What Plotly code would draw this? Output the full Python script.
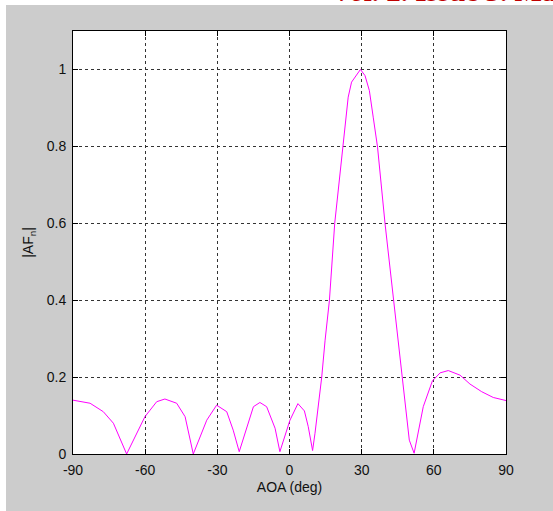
import plotly.graph_objects as go

# Angle of arrival (deg) and normalized array-factor magnitude
aoa_deg = [-90, -82.9, -77.4, -73.2, -67.7, -60.1, -55.2, -51.8, -46.9, -43.4,
           -40.0, -34.4, -30.3, -26.1, -23.4, -20.9, -15.0, -12.3, -9.5, -6.0,
           -4.0, 0.2, 3.5, 6.2, 7.8, 9.6, 10.6, 12.0, 13.4, 14.8,
           16.6, 18.8, 22.0, 23.1, 24.4, 25.8, 29.5, 31.4, 33.2, 34.8,
           36.6, 39.7, 43.2, 47.0, 49.8, 51.8, 55.6, 59.4, 62.6, 66.0,
           70.9, 75.0, 79.9, 84.7, 88.9, 90]
af_mag = [0.140, 0.132, 0.110, 0.080, 0.000, 0.097, 0.136, 0.143, 0.132, 0.097,
          0.000, 0.088, 0.127, 0.110, 0.062, 0.006, 0.123, 0.134, 0.123, 0.067,
          0.006, 0.088, 0.131, 0.112, 0.071, 0.009, 0.054, 0.123, 0.200, 0.296,
          0.400, 0.600, 0.798, 0.860, 0.928, 0.967, 1.000, 0.984, 0.945, 0.876,
          0.798, 0.600, 0.400, 0.200, 0.036, 0.002, 0.123, 0.190, 0.211, 0.217,
          0.205, 0.182, 0.162, 0.147, 0.140, 0.139]

x_ticks = [-90, -60, -30, 0, 30, 60, 90]
x_tick_labels = ["-90", "-60", "-30", "0", "30", "60", "90"]
y_ticks = [0, 0.2, 0.4, 0.6, 0.8, 1.0]
y_tick_labels = ["0", "0.2", "0.4", "0.6", "0.8", "1"]

header_text = "Vol. 2. Issue 3. Ma"

W, H = 553, 511
L, R, T, B = 73, 47, 31, 57
PW, PH = W - L - R, H - T - B


def px_x(px):
    return (px - L) / PW


def px_y(py):
    return (H - B - py) / PH


FONT = "Liberation Sans Narrow, Arial Narrow, Liberation Sans, Arial, sans-serif"

fig = go.Figure()
fig.add_trace(go.Scatter(x=aoa_deg, y=af_mag, mode="lines",
                         line=dict(color="#ff00ff", width=1), showlegend=False,
                         hoverinfo="skip"))

axis_common = dict(
    showline=True, linecolor="black", linewidth=1, mirror="ticks",
    ticks="inside", ticklen=5, tickcolor="black",
    showgrid=True, gridcolor="#333333", gridwidth=1, griddash="3px,3px",
    zeroline=False,
    tickfont=dict(family=FONT, size=14, color="#111111"),
)

fig.update_xaxes(range=[-90, 90], tickvals=x_ticks, ticktext=x_tick_labels,
                 title=dict(text="AOA (deg)", font=dict(family=FONT, size=14, color="#111111"), standoff=5),
                 ticklabelstandoff=3,
                 **axis_common)
fig.update_yaxes(range=[0, 1.1], tickvals=y_ticks, ticktext=y_tick_labels,
                 title=dict(text="|AF<sub>n</sub>|", font=dict(family=FONT, size=14, color="#111111"), standoff=9),
                 ticklabelstandoff=3,
                 **axis_common)

# white page strips around the grey figure panel
fig.add_shape(type="rect", xref="paper", yref="paper", layer="below",
              x0=px_x(-10), x1=px_x(W + 10), y0=px_y(5), y1=px_y(-10),
              fillcolor="white", line_width=0)
fig.add_shape(type="rect", xref="paper", yref="paper", layer="below",
              x0=px_x(-10), x1=px_x(6), y0=px_y(H + 10), y1=px_y(-10),
              fillcolor="white", line_width=0)

fig.add_annotation(text="<b>" + header_text + "</b>", xref="paper", yref="paper",
                   x=px_x(329), y=px_y(9), xanchor="left", yanchor="bottom",
                   showarrow=False,
                   font=dict(family="Liberation Serif, Times New Roman, serif", size=29, color="#c00000"))

fig.update_layout(width=W, height=H, margin=dict(l=L, r=R, t=T, b=B, pad=0),
                  paper_bgcolor="#cccccc", plot_bgcolor="white")

fig.write_html("out.html", config={"displayModeBar": False},
               post_script="document.body.style.margin='0';document.body.style.overflow='hidden';")
